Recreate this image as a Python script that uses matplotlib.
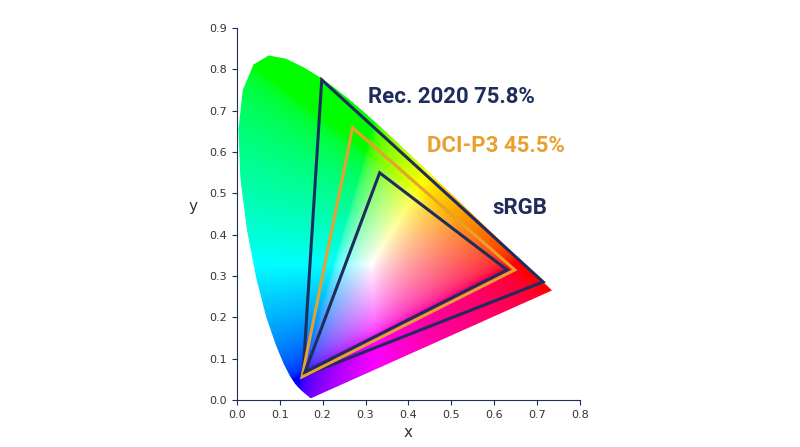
import numpy as np
import matplotlib
matplotlib.use("Agg")
import matplotlib.pyplot as plt
from matplotlib.patches import Polygon

# CIE 1931 spectral locus (x, y), 380-700 nm
locus_x = [0.1741, 0.1740, 0.1738, 0.1736, 0.1733, 0.1730, 0.1726, 0.1721, 0.1714, 0.1703,
           0.1689, 0.1669, 0.1644, 0.1611, 0.1566, 0.1510, 0.1440, 0.1355, 0.1241, 0.1096,
           0.0913, 0.0687, 0.0454, 0.0235, 0.0082, 0.0039, 0.0139, 0.0389, 0.0743, 0.1142,
           0.1547, 0.1929, 0.2296, 0.2658, 0.3016, 0.3373, 0.3731, 0.4087, 0.4441, 0.4788,
           0.5125, 0.5448, 0.5752, 0.6029, 0.6270, 0.6482, 0.6658, 0.6801, 0.6915, 0.7006,
           0.7079, 0.7140, 0.7190, 0.7230, 0.7260, 0.7283, 0.7300, 0.7311, 0.7320, 0.7334, 0.7347]
locus_y = [0.0050, 0.0050, 0.0049, 0.0049, 0.0048, 0.0048, 0.0048, 0.0048, 0.0051, 0.0058,
           0.0069, 0.0086, 0.0109, 0.0138, 0.0177, 0.0227, 0.0297, 0.0399, 0.0578, 0.0868,
           0.1327, 0.2007, 0.2950, 0.4127, 0.5384, 0.6548, 0.7502, 0.8120, 0.8338, 0.8262,
           0.8059, 0.7816, 0.7543, 0.7243, 0.6923, 0.6589, 0.6245, 0.5896, 0.5547, 0.5202,
           0.4866, 0.4544, 0.4242, 0.3965, 0.3725, 0.3514, 0.3340, 0.3197, 0.3083, 0.2993,
           0.2920, 0.2859, 0.2809, 0.2770, 0.2740, 0.2717, 0.2700, 0.2689, 0.2680, 0.2666, 0.2653]

# gamut triangles
rec2020_x = [0.198, 0.714, 0.154]
rec2020_y = [0.775, 0.286, 0.058]
p3_x = [0.270, 0.648, 0.152]
p3_y = [0.659, 0.315, 0.056]
srgb_x = [0.333, 0.630, 0.159]
srgb_y = [0.550, 0.315, 0.068]

navy = "#1f2d5c"
orange = "#e8a030"

fig = plt.figure(figsize=(8, 4.47), dpi=100)
ax = fig.add_axes([0.296, 0.105, 0.429, 0.832])

# chromaticity colours
gx, gy = np.meshgrid(np.linspace(0, 0.8, 500), np.linspace(0, 0.9, 560))
gy_safe = np.where(gy < 1e-4, 1e-4, gy)
X = gx / gy_safe
Z = (1 - gx - gy) / gy_safe
Y = np.ones_like(X)
M = np.array([[3.2406, -1.5372, -0.4986],
              [-0.9689, 1.8758, 0.0415],
              [0.0557, -0.2040, 1.0570]])
rgb = np.stack([X, Y, Z], axis=-1) @ M.T
rgb = np.clip(rgb, 0, None)
rgb = rgb / rgb.max(axis=-1, keepdims=True)
rgb = np.where(rgb <= 0.0031308, 12.92 * rgb, 1.055 * rgb ** (1 / 2.4) - 0.055)
rgb = np.clip(rgb, 0, 1)

im = ax.imshow(rgb, origin="lower", extent=[0, 0.8, 0, 0.9], aspect="auto",
               interpolation="bilinear")
locus = Polygon(np.column_stack([locus_x, locus_y]), closed=True,
                facecolor="none", edgecolor="none")
ax.add_patch(locus)
im.set_clip_path(locus)

ax.add_patch(Polygon(np.column_stack([rec2020_x, rec2020_y]), closed=True,
                     fill=False, edgecolor=navy, linewidth=2.2))
ax.add_patch(Polygon(np.column_stack([p3_x, p3_y]), closed=True,
                     fill=False, edgecolor=orange, linewidth=2.2))
ax.add_patch(Polygon(np.column_stack([srgb_x, srgb_y]), closed=True,
                     fill=False, edgecolor=navy, linewidth=2.2))

font = dict(family="Roboto", fontweight="bold", fontsize=16)
ax.text(0.305, 0.733, "Rec. 2020 75.8%", color=navy, va="center", **font)
ax.text(0.443, 0.615, "DCI-P3 45.5%", color=orange, va="center", **font)
ax.text(0.595, 0.465, "sRGB", color=navy, va="center", **font)

ax.set_xlim(0, 0.8)
ax.set_ylim(0, 0.9)
ax.set_xticks(np.arange(0, 0.81, 0.1))
ax.set_yticks(np.arange(0, 0.91, 0.1))
ax.set_xticklabels([f"{v:.1f}" for v in np.arange(0, 0.81, 0.1)])
ax.set_yticklabels([f"{v:.1f}" for v in np.arange(0, 0.91, 0.1)])
ax.tick_params(colors=navy, labelsize=8, labelcolor="#333333")
for side in ["top", "right"]:
    ax.spines[side].set_visible(False)
for side in ["left", "bottom"]:
    ax.spines[side].set_color(navy)
ax.set_xlabel("x", color="#333333", fontsize=11)
ax.set_ylabel("y", color="#333333", fontsize=11, rotation=0, labelpad=12)

fig.savefig("out.png", dpi=100)
